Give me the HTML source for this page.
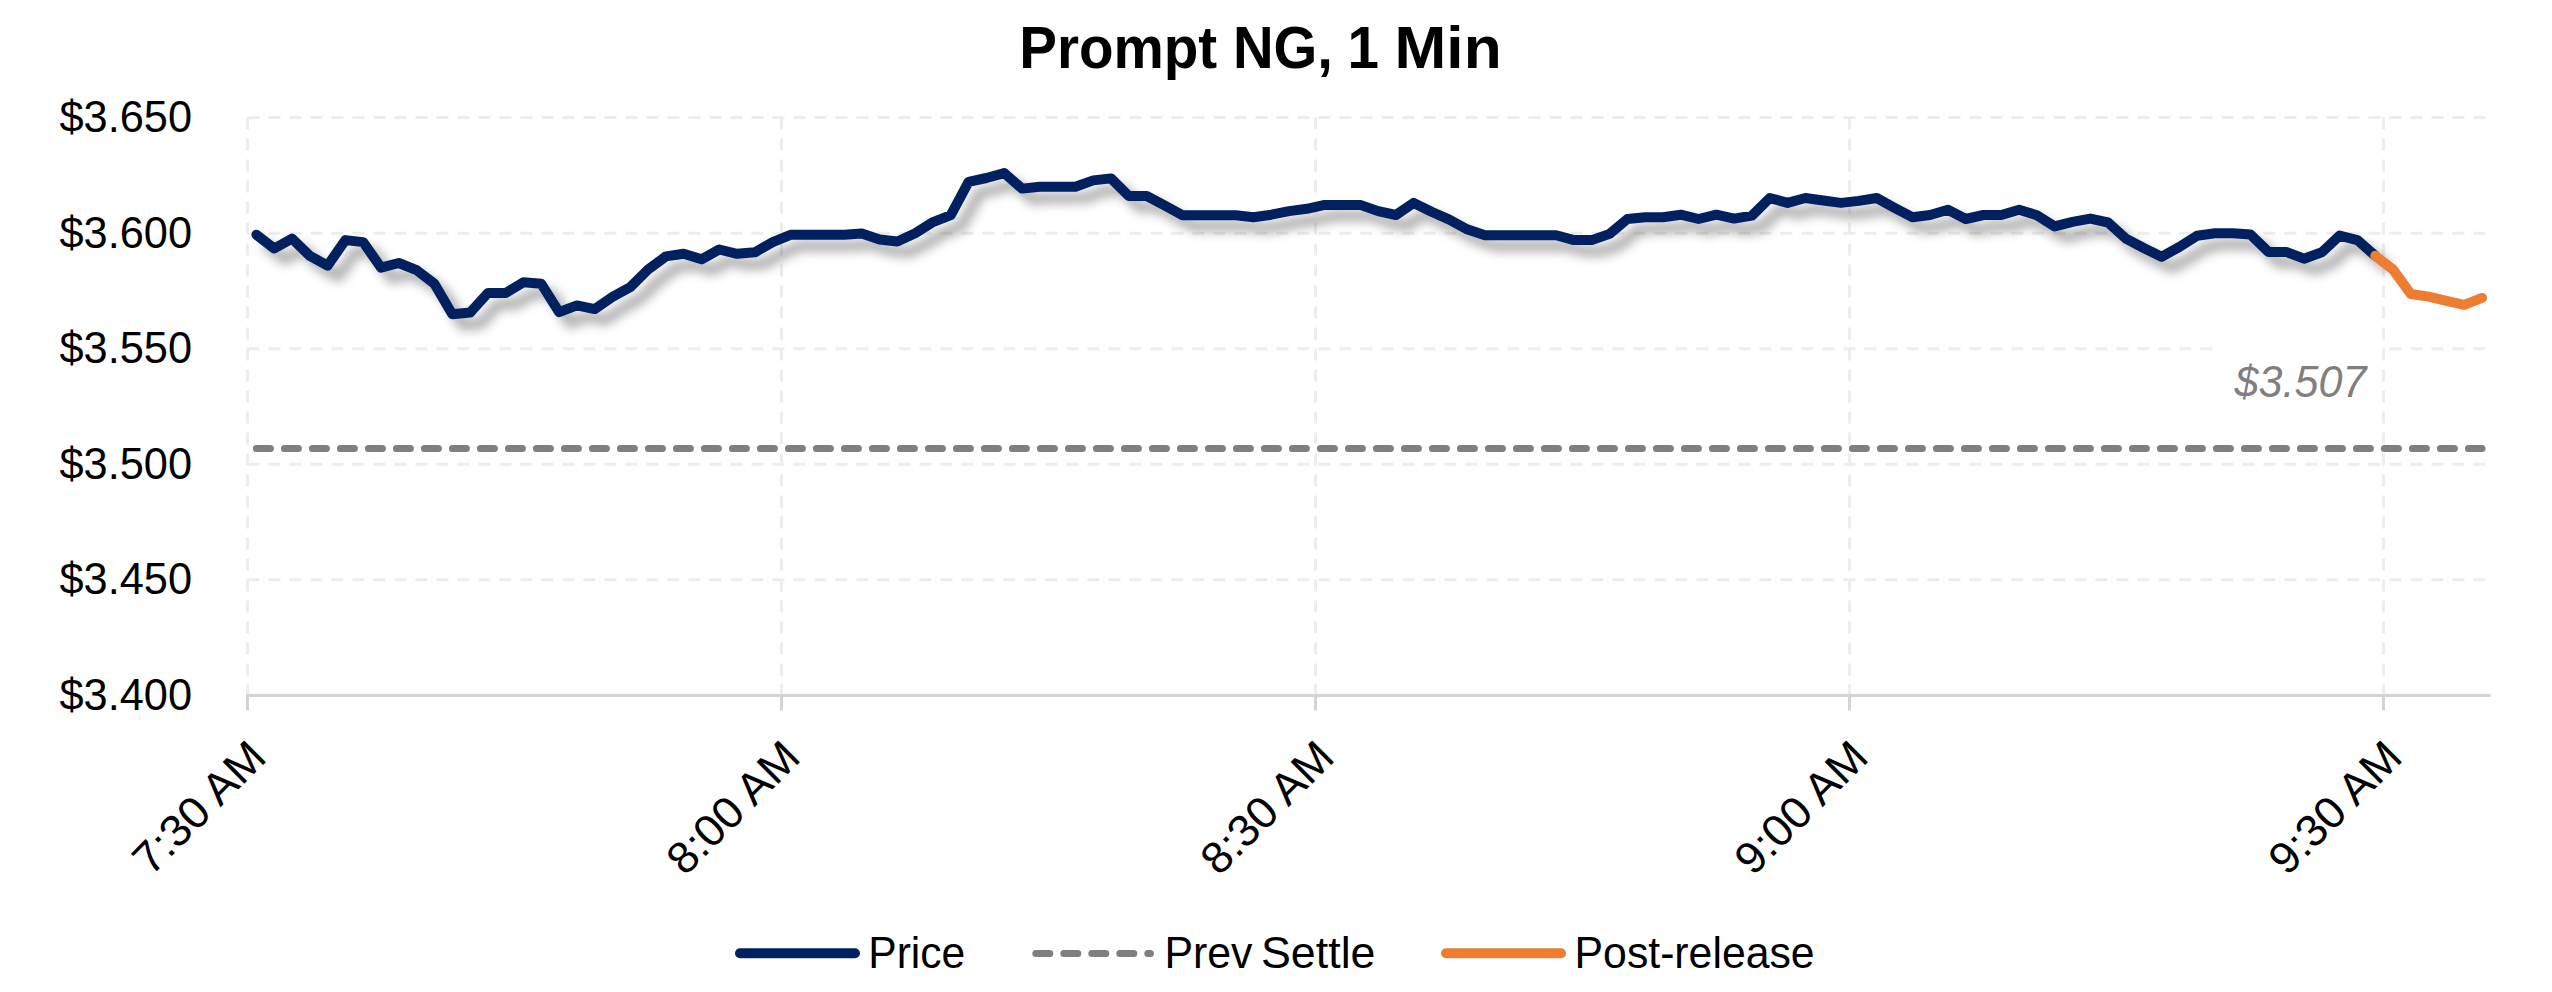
<!DOCTYPE html>
<html lang="en"><head><meta charset="utf-8"><title>Prompt NG, 1 Min</title>
<style>
html,body{margin:0;padding:0;background:#fff;}
body{width:2552px;height:992px;overflow:hidden;}
svg{display:block;}
text{font-family:"Liberation Sans",sans-serif;}
.ax{font-size:44.6px;fill:#000;}
</style></head><body>
<svg width="2552" height="992" viewBox="0 0 2552 992">
<defs>
<filter id="sh" x="-2%" y="-30%" width="104%" height="170%" filterUnits="objectBoundingBox">
<feGaussianBlur stdDeviation="5.3"/>
</filter>
</defs>
<rect width="2552" height="992" fill="#fff"/>
<text y="68.3" font-size="58.3" font-weight="700"><tspan x="1019.2" textLength="198.0" lengthAdjust="spacingAndGlyphs">Prompt</tspan> <tspan x="1233.0" textLength="100.0" lengthAdjust="spacingAndGlyphs">NG,</tspan> <tspan x="1347.6" textLength="31.5" lengthAdjust="spacingAndGlyphs">1</tspan> <tspan x="1394.6" textLength="107.0" lengthAdjust="spacingAndGlyphs">Min</tspan></text>
<g stroke="#EDEDED" stroke-width="3" stroke-dasharray="12 9" fill="none">
<line x1="247.4" y1="117.6" x2="2490.5" y2="117.6"/>
<line x1="247.4" y1="233.2" x2="2490.5" y2="233.2"/>
<line x1="247.4" y1="348.7" x2="2490.5" y2="348.7"/>
<line x1="247.4" y1="464.3" x2="2490.5" y2="464.3"/>
<line x1="247.4" y1="579.8" x2="2490.5" y2="579.8"/>
<line x1="247.5" y1="117.6" x2="247.5" y2="695.4"/>
<line x1="781.5" y1="117.6" x2="781.5" y2="695.4"/>
<line x1="1315.5" y1="117.6" x2="1315.5" y2="695.4"/>
<line x1="1849.5" y1="117.6" x2="1849.5" y2="695.4"/>
<line x1="2383.5" y1="117.6" x2="2383.5" y2="695.4"/>
</g>
<g stroke="#D4D4D4" stroke-width="3" fill="none"><line x1="246" y1="695.4" x2="2490.5" y2="695.4"/>
<line x1="247.5" y1="695.4" x2="247.5" y2="710.4"/>
<line x1="781.5" y1="695.4" x2="781.5" y2="710.4"/>
<line x1="1315.5" y1="695.4" x2="1315.5" y2="710.4"/>
<line x1="1849.5" y1="695.4" x2="1849.5" y2="710.4"/>
<line x1="2383.5" y1="695.4" x2="2383.5" y2="710.4"/>
</g>
<text class="ax" x="192.0" y="132.2" text-anchor="end" textLength="132.5" lengthAdjust="spacingAndGlyphs">$3.650</text>
<text class="ax" x="192.0" y="247.8" text-anchor="end" textLength="132.5" lengthAdjust="spacingAndGlyphs">$3.600</text>
<text class="ax" x="192.0" y="363.3" text-anchor="end" textLength="132.5" lengthAdjust="spacingAndGlyphs">$3.550</text>
<text class="ax" x="192.0" y="478.9" text-anchor="end" textLength="132.5" lengthAdjust="spacingAndGlyphs">$3.500</text>
<text class="ax" x="192.0" y="594.4" text-anchor="end" textLength="132.5" lengthAdjust="spacingAndGlyphs">$3.450</text>
<text class="ax" x="192.0" y="710.0" text-anchor="end" textLength="132.5" lengthAdjust="spacingAndGlyphs">$3.400</text>
<text class="ax" transform="translate(268.3,759.5) rotate(-45)" text-anchor="end" textLength="166" lengthAdjust="spacingAndGlyphs">7:30 AM</text>
<text class="ax" transform="translate(802.3,759.5) rotate(-45)" text-anchor="end" textLength="166" lengthAdjust="spacingAndGlyphs">8:00 AM</text>
<text class="ax" transform="translate(1336.3,759.5) rotate(-45)" text-anchor="end" textLength="166" lengthAdjust="spacingAndGlyphs">8:30 AM</text>
<text class="ax" transform="translate(1870.3,759.5) rotate(-45)" text-anchor="end" textLength="166" lengthAdjust="spacingAndGlyphs">9:00 AM</text>
<text class="ax" transform="translate(2404.3,759.5) rotate(-45)" text-anchor="end" textLength="166" lengthAdjust="spacingAndGlyphs">9:30 AM</text>
<rect x="2216" y="343" width="165.6" height="66" fill="#fff"/>
<line x1="256.4" y1="448.5" x2="2482.0" y2="448.5" stroke="#7F7F7F" stroke-width="7" stroke-dasharray="14 14" stroke-linecap="round"/>
<text x="2366.5" y="396.5" text-anchor="end" font-size="44.6" font-style="italic" fill="#7F7F7F" textLength="132" lengthAdjust="spacingAndGlyphs">$3.507</text>
<polyline points="256.4,234.8 274.2,248.5 292.0,238.6 309.8,255.8 327.6,265.6 345.4,240.1 363.2,242.1 381.0,267.6 398.8,263.0 416.6,270.1 434.4,283.8 452.3,314.2 470.1,312.6 487.9,293.0 505.7,293.0 523.5,282.2 541.3,283.8 559.1,312.2 576.9,305.4 594.7,309.1 612.5,296.9 630.3,287.1 648.1,269.5 665.9,256.4 683.7,253.8 701.5,259.3 719.3,249.5 737.1,253.8 754.9,252.3 772.7,242.1 790.5,234.8 808.4,234.8 826.2,234.8 844.0,234.8 861.8,233.5 879.6,239.5 897.4,241.5 915.2,233.3 933.0,222.1 950.8,215.2 968.6,181.9 986.4,178.0 1004.2,173.1 1022.0,188.6 1039.8,186.8 1057.6,186.8 1075.4,186.8 1093.2,180.4 1111.0,178.4 1128.8,196.0 1146.7,196.0 1164.5,205.4 1182.3,215.2 1200.1,215.2 1217.9,215.2 1235.7,215.2 1253.5,217.2 1271.3,214.7 1289.1,211.1 1306.9,208.8 1324.7,204.9 1342.5,204.9 1360.3,204.9 1378.1,211.1 1395.9,215.0 1413.7,202.9 1431.5,211.7 1449.3,219.6 1467.1,229.3 1484.9,235.2 1502.8,235.2 1520.6,235.2 1538.4,235.2 1556.2,235.2 1574.0,240.1 1591.8,240.1 1609.6,233.9 1627.4,219.0 1645.2,217.2 1663.0,217.2 1680.8,214.7 1698.6,219.0 1716.4,214.7 1734.2,218.6 1752.0,215.6 1769.8,198.0 1787.6,202.9 1805.4,198.0 1823.2,200.5 1841.0,202.9 1858.8,200.9 1876.7,198.0 1894.5,207.8 1912.3,217.2 1930.1,215.0 1947.9,209.8 1965.7,219.0 1983.5,215.0 2001.3,215.0 2019.1,209.8 2036.9,215.2 2054.7,226.4 2072.5,221.9 2090.3,218.6 2108.1,222.5 2125.9,238.6 2143.7,248.0 2161.5,256.8 2179.3,247.0 2197.1,235.8 2214.9,233.3 2232.8,233.3 2250.6,234.6 2268.4,251.9 2286.2,251.9 2304.0,258.7 2321.8,252.3 2339.6,235.6 2357.4,240.1 2375.2,255.8" transform="translate(10.9,10.9)" fill="none" stroke="#000" stroke-opacity="0.35" stroke-width="10" stroke-linejoin="round" stroke-linecap="round" filter="url(#sh)"/>
<polyline points="256.4,234.8 274.2,248.5 292.0,238.6 309.8,255.8 327.6,265.6 345.4,240.1 363.2,242.1 381.0,267.6 398.8,263.0 416.6,270.1 434.4,283.8 452.3,314.2 470.1,312.6 487.9,293.0 505.7,293.0 523.5,282.2 541.3,283.8 559.1,312.2 576.9,305.4 594.7,309.1 612.5,296.9 630.3,287.1 648.1,269.5 665.9,256.4 683.7,253.8 701.5,259.3 719.3,249.5 737.1,253.8 754.9,252.3 772.7,242.1 790.5,234.8 808.4,234.8 826.2,234.8 844.0,234.8 861.8,233.5 879.6,239.5 897.4,241.5 915.2,233.3 933.0,222.1 950.8,215.2 968.6,181.9 986.4,178.0 1004.2,173.1 1022.0,188.6 1039.8,186.8 1057.6,186.8 1075.4,186.8 1093.2,180.4 1111.0,178.4 1128.8,196.0 1146.7,196.0 1164.5,205.4 1182.3,215.2 1200.1,215.2 1217.9,215.2 1235.7,215.2 1253.5,217.2 1271.3,214.7 1289.1,211.1 1306.9,208.8 1324.7,204.9 1342.5,204.9 1360.3,204.9 1378.1,211.1 1395.9,215.0 1413.7,202.9 1431.5,211.7 1449.3,219.6 1467.1,229.3 1484.9,235.2 1502.8,235.2 1520.6,235.2 1538.4,235.2 1556.2,235.2 1574.0,240.1 1591.8,240.1 1609.6,233.9 1627.4,219.0 1645.2,217.2 1663.0,217.2 1680.8,214.7 1698.6,219.0 1716.4,214.7 1734.2,218.6 1752.0,215.6 1769.8,198.0 1787.6,202.9 1805.4,198.0 1823.2,200.5 1841.0,202.9 1858.8,200.9 1876.7,198.0 1894.5,207.8 1912.3,217.2 1930.1,215.0 1947.9,209.8 1965.7,219.0 1983.5,215.0 2001.3,215.0 2019.1,209.8 2036.9,215.2 2054.7,226.4 2072.5,221.9 2090.3,218.6 2108.1,222.5 2125.9,238.6 2143.7,248.0 2161.5,256.8 2179.3,247.0 2197.1,235.8 2214.9,233.3 2232.8,233.3 2250.6,234.6 2268.4,251.9 2286.2,251.9 2304.0,258.7 2321.8,252.3 2339.6,235.6 2357.4,240.1 2375.2,255.8" fill="none" stroke="#002060" stroke-width="10" stroke-linejoin="round" stroke-linecap="round"/>
<polyline points="2375.2,255.8 2393.0,269.5 2410.8,294.0 2428.6,296.6 2446.4,300.9 2464.2,304.8 2482.0,297.9" fill="none" stroke="#ED7D31" stroke-width="10" stroke-linejoin="round" stroke-linecap="round"/>
<line x1="740" y1="953.2" x2="855" y2="953.2" stroke="#002060" stroke-width="10" stroke-linecap="round"/>
<text class="ax" x="868.3" y="967.5" style="font-size:44.6px" textLength="97" lengthAdjust="spacingAndGlyphs">Price</text>
<line x1="1035.8" y1="953.4" x2="1150.4" y2="953.4" stroke="#7F7F7F" stroke-width="7" stroke-dasharray="14 14" stroke-linecap="round"/>
<text class="ax" y="967.6" style="font-size:44.6px"><tspan x="1164.4" textLength="88" lengthAdjust="spacingAndGlyphs">Prev</tspan> <tspan x="1261" textLength="114.5" lengthAdjust="spacingAndGlyphs">Settle</tspan></text>
<line x1="1446" y1="953.2" x2="1561" y2="953.2" stroke="#ED7D31" stroke-width="10" stroke-linecap="round"/>
<text class="ax" x="1574.6" y="967.5" style="font-size:44.6px" textLength="240" lengthAdjust="spacingAndGlyphs">Post-release</text>
</svg>
</body></html>
